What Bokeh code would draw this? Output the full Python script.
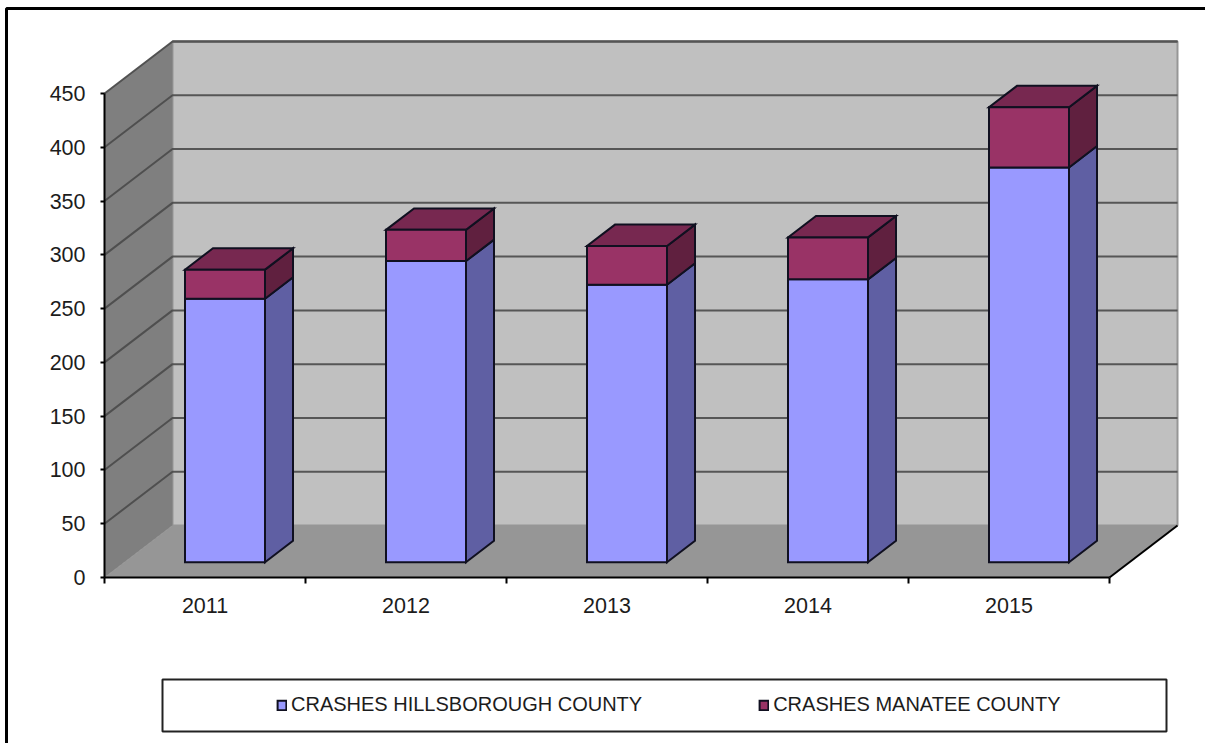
from bokeh.embed import file_html
from bokeh.models import (BoxAnnotation, FixedTicker, Legend, LegendItem,
                          Range1d)
from bokeh.plotting import figure
from bokeh.resources import INLINE

# Crash counts per year
years = ["2011", "2012", "2013", "2014", "2015"]
hillsborough = [245, 280, 258, 263, 367]
manatee = [27, 29, 36, 39, 56]
series_names = ["CRASHES HILLSBOROUGH COUNTY", "CRASHES MANATEE COUNTY"]
value_ticks = [0, 50, 100, 150, 200, 250, 300, 350, 400, 450]

WIDTH, HEIGHT = 1205, 743
ORIGIN_X, ORIGIN_Y = 104, 577   # where category 0 / value 0 land on the page
PX_PER_CAT = 201.0
PX_PER_VAL = 484.0 / 450.0

# Oblique projection: how far the rear wall sits from the front plane
DEPTH_X = 68 / PX_PER_CAT
DEPTH_Y = 52 / PX_PER_VAL
BAR_GAP = 20 / 68       # share of the depth in front of each bar
BAR_DEPTH = 28 / 68     # share of the depth taken by each bar
BAR_HALF = 40 / PX_PER_CAT
N = len(years)
VMAX = value_ticks[-1]

# The plotting frame fills the page; axes are pinned to the origin inside it
p = figure(
    width=WIDTH, height=HEIGHT, output_backend="svg", toolbar_location=None,
    x_range=Range1d(-ORIGIN_X / PX_PER_CAT, (WIDTH - ORIGIN_X) / PX_PER_CAT),
    y_range=Range1d(-(HEIGHT - ORIGIN_Y) / PX_PER_VAL, ORIGIN_Y / PX_PER_VAL),
    min_border=0, outline_line_color=None,
    background_fill_color="white", border_fill_color="white",
)
p.grid.visible = False

# Walls and floor of the 3-D box
p.patch([DEPTH_X, N + DEPTH_X, N + DEPTH_X, DEPTH_X],
        [DEPTH_Y, DEPTH_Y, VMAX + DEPTH_Y, VMAX + DEPTH_Y],
        fill_color="#c0c0c0", line_color="#969696", line_width=2)
p.patch([0, DEPTH_X, DEPTH_X, 0],
        [0, DEPTH_Y, VMAX + DEPTH_Y, VMAX],
        fill_color="#7f7f7f", line_color="#8c8c8c", line_width=1)
p.patch([0, N, N + DEPTH_X, DEPTH_X],
        [0, 0, DEPTH_Y, DEPTH_Y],
        fill_color="#969696", line_color=None)
p.line([N, N + DEPTH_X], [0, DEPTH_Y], line_color="black", line_width=2)

# Gridlines run along the rear wall and fold down the side wall
grid = [v for v in value_ticks if v > 0]
p.multi_line(
    [[0, DEPTH_X, N + DEPTH_X] for _ in grid],
    [[v, v + DEPTH_Y, v + DEPTH_Y] for v in grid],
    line_color="#4a4a4a", line_width=2, line_alpha=0.9,
)
p.line([DEPTH_X, N + DEPTH_X], [VMAX + DEPTH_Y] * 2, line_color="#555555", line_width=2)


def draw_segment(index, low, high, front, side, top):
    """One stacked block: side face, optional top face, front face."""
    cx = index + 0.5 + BAR_GAP * DEPTH_X
    x0, x1 = cx - BAR_HALF, cx + BAR_HALF
    dx, dy = BAR_DEPTH * DEPTH_X, BAR_DEPTH * DEPTH_Y
    base = BAR_GAP * DEPTH_Y
    style = dict(line_color="#101020", line_width=2, line_join="miter")
    p.patch([x1, x1 + dx, x1 + dx, x1],
            [base + low, base + low + dy, base + high + dy, base + high],
            fill_color=side, **style)
    if top:
        p.patch([x0, x1, x1 + dx, x0 + dx],
                [base + high, base + high, base + high + dy, base + high + dy],
                fill_color=top, **style)
    return p.quad(left=[x0], right=[x1], bottom=[base + low], top=[base + high],
                  fill_color=front, **style)


lower_face = upper_face = None
for i, (a, b) in enumerate(zip(hillsborough, manatee)):
    lower_face = draw_segment(i, 0, a, "#9999ff", "#5f5fa3", None)
    upper_face = draw_segment(i, a, a + b, "#993366", "#60203f", "#772850")

# Axes
for ax in (p.xaxis[0], p.yaxis[0]):
    ax.fixed_location = 0
    ax.axis_line_color = "black"
    ax.axis_line_width = 2
    ax.major_tick_line_color = "black"
    ax.major_tick_line_width = 2
    ax.major_label_text_font = "Liberation Sans"
    ax.major_label_text_font_size = "21.5px"
    ax.major_label_text_color = "#1c1c1c"

p.yaxis[0].ticker = FixedTicker(ticks=value_ticks)
p.yaxis[0].bounds = (0, VMAX)
p.yaxis[0].major_tick_in = 0
p.yaxis[0].major_tick_out = 4
p.yaxis[0].minor_tick_line_color = None
p.yaxis[0].major_label_standoff = 15

# Year labels sit mid-category; tick marks separate the categories
p.xaxis[0].ticker = FixedTicker(ticks=[i + 0.5 for i in range(N)],
                                minor_ticks=list(range(N + 1)))
p.xaxis[0].major_label_overrides = {i + 0.5: y for i, y in enumerate(years)}
p.xaxis[0].bounds = (0, N)
p.xaxis[0].major_tick_line_color = None
p.xaxis[0].major_tick_in = 0
p.xaxis[0].major_tick_out = 0
p.xaxis[0].minor_tick_line_color = "black"
p.xaxis[0].minor_tick_line_width = 2
p.xaxis[0].minor_tick_in = 0
p.xaxis[0].minor_tick_out = 6
p.xaxis[0].major_label_standoff = 14

# Page rule (only its left and top edges reach the page) and legend frame
p.add_layout(BoxAnnotation(left=6, right=1215, top=8, bottom=760,
                           left_units="canvas", right_units="canvas",
                           top_units="canvas", bottom_units="canvas",
                           fill_color=None, line_color="black", line_alpha=1,
                           line_width=3, level="underlay"))
p.add_layout(BoxAnnotation(left=162, right=1166, top=679, bottom=731,
                           left_units="canvas", right_units="canvas",
                           top_units="canvas", bottom_units="canvas",
                           fill_color=None, line_color="#222222", line_alpha=1,
                           line_width=2))

legend = Legend(
    items=[LegendItem(label=series_names[0], renderers=[lower_face]),
           LegendItem(label=series_names[1], renderers=[upper_face])],
    orientation="horizontal",
    location=(276, HEIGHT - 716),
    background_fill_alpha=0, border_line_color=None,
    padding=0, margin=0, spacing=116,
    glyph_width=11, glyph_height=12, label_standoff=4,
    label_text_font="Liberation Sans", label_text_font_size="20px",
    label_text_color="#1c1c1c",
)
p.add_layout(legend)

open("out.html", "w").write(file_html(p, INLINE))
